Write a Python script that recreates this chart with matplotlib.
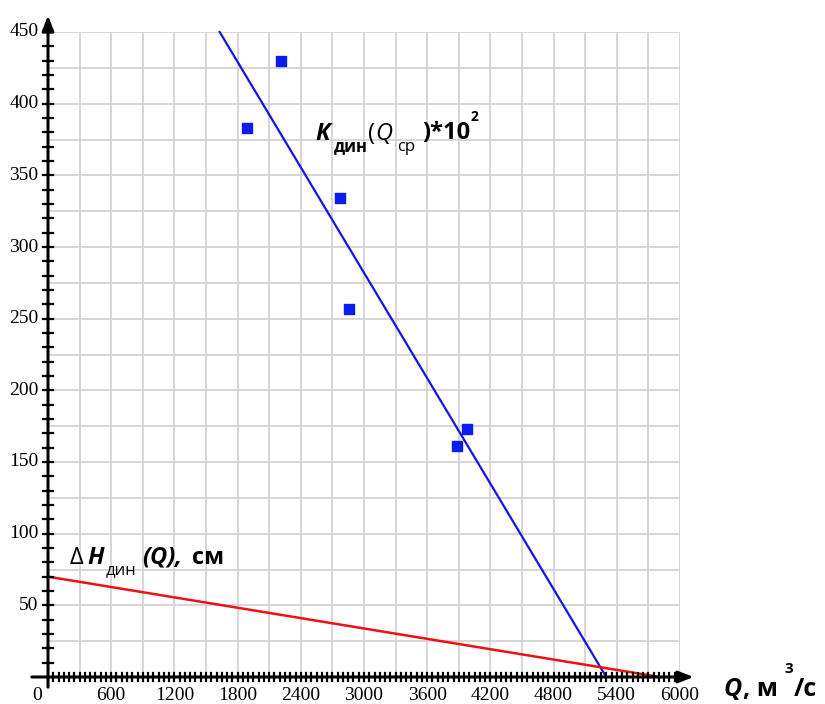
import matplotlib.pyplot as plt
from matplotlib.ticker import MultipleLocator

plt.rcParams['font.family'] = ['Liberation Serif', 'DejaVu Serif']

# measured points K_дин(Q_ср)*10^2
q_pts = [1890, 2210, 2770, 2860, 3880, 3980]
k_pts = [383, 430, 334, 257, 161, 173]

# trend lines (end points)
k_line_q = [1630, 5300]
k_line_v = [450, 0]
h_line_q = [0, 5810]
h_line_v = [70, 0]

x_ticks = [600, 1200, 1800, 2400, 3000, 3600, 4200, 4800, 5400, 6000]
y_ticks = [50, 100, 150, 200, 250, 300, 350, 400, 450]

fig = plt.figure(figsize=(8.25, 7.04), dpi=100)
ax = fig.add_axes([48/825, 27/704, 632/825, 645/704])
ax.set_xlim(0, 6000)
ax.set_ylim(0, 450)

# grid
ax.xaxis.set_major_locator(MultipleLocator(300))
ax.yaxis.set_major_locator(MultipleLocator(25))
ax.grid(True, color='#d0d0d0', lw=1.2, zorder=0)
ax.tick_params(which='major', length=0, labelleft=False, labelbottom=False)
for s in ['top', 'right', 'left', 'bottom']:
    ax.spines[s].set_visible(False)

# axes with arrows
ax.annotate('', xy=(1.026, 0), xytext=(-0.03, 0), xycoords='axes fraction',
            arrowprops=dict(arrowstyle='-|>,head_width=0.35,head_length=0.9',
                            color='black', lw=2.2), annotation_clip=False, zorder=5)
ax.annotate('', xy=(0, 1.03), xytext=(0, -0.02), xycoords='axes fraction',
            arrowprops=dict(arrowstyle='-|>,head_width=0.35,head_length=0.9',
                            color='black', lw=2.2), annotation_clip=False, zorder=5)

# small cross ticks
for xv in range(50, 6000, 50):
    ax.plot([xv, xv], [-3, 3], color='black', lw=1.6, clip_on=False, zorder=5)
for yv in range(10, 450, 10):
    ax.plot([-45, 45], [yv, yv], color='black', lw=1.6, clip_on=False, zorder=5)

# tick labels
for xv in x_ticks:
    ax.text(xv, -7, str(xv), ha='center', va='top', fontsize=14, clip_on=False)
for yv in y_ticks:
    ax.text(-90, yv, str(yv), ha='right', va='center', fontsize=14, clip_on=False)
ax.text(-60, -7, '0', ha='right', va='top', fontsize=14, clip_on=False)

# data
ax.plot(k_line_q, k_line_v, color='#1414e6', lw=1.6, zorder=3, clip_on=False)
ax.plot(h_line_q, h_line_v, color='#ee1111', lw=1.8, zorder=3, clip_on=False)
ax.scatter(q_pts, k_pts, marker='s', s=45, color='#0a1cf0', zorder=4)

# annotations
lab_font = ['Open Sans', 'DejaVu Sans']
ax.text(2535, 375, 'K', fontsize=17, fontweight='bold', style='italic',
        family=lab_font, ha='left', va='baseline')
ax.text(2710, 367, 'дин', fontsize=12, fontweight='bold', family=lab_font,
        ha='left', va='baseline')
ax.text(3040, 375, '(', fontsize=17, family=lab_font, ha='left', va='baseline')
ax.text(3105, 375, 'Q', fontsize=17, style='italic', family=lab_font,
        ha='left', va='baseline')
ax.text(3310, 367, 'ср', fontsize=12, family=lab_font, ha='left', va='baseline')
ax.text(3555, 375, ')*10', fontsize=17, fontweight='bold', family=lab_font,
        ha='left', va='baseline')
ax.text(4010, 388, '2', fontsize=10, fontweight='bold', family=lab_font,
        ha='left', va='baseline')

ax.text(209, 79, 'Δ', fontsize=17, family=lab_font, ha='left', va='baseline')
ax.text(370, 79, 'H', fontsize=17, fontweight='bold', style='italic',
        family=lab_font, ha='left', va='baseline')
ax.text(551, 72, 'дин', fontsize=12, family=lab_font, ha='left', va='baseline')
ax.text(892, 79, '(Q),', fontsize=17, fontweight='bold', style='italic',
        family=lab_font, ha='left', va='baseline')
ax.text(1367, 79, 'см', fontsize=17, fontweight='bold',
        family=lab_font, ha='left', va='baseline')

ax.text(6410, -13, 'Q', fontsize=18, fontweight='bold', style='italic',
        family=lab_font, ha='left', va='baseline', clip_on=False)
ax.text(6600, -13, ', м', fontsize=18, fontweight='bold',
        family=lab_font, ha='left', va='baseline', clip_on=False)
ax.text(6990, 3, '3', fontsize=11, fontweight='bold',
        family=lab_font, ha='left', va='baseline', clip_on=False)
ax.text(7080, -13, '/с', fontsize=18, fontweight='bold',
        family=lab_font, ha='left', va='baseline', clip_on=False)

fig.savefig('out.png', dpi=100, facecolor='white')
